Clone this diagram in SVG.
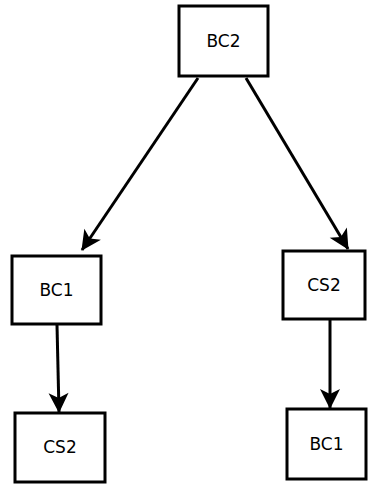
<svg xmlns="http://www.w3.org/2000/svg" width="369" height="484" viewBox="0 0 369 484">
<style>
.n{fill:#fff;stroke:#000;stroke-width:3}
.t{font-family:"DejaVu Sans",Verdana,sans-serif;font-size:17px;fill:#000;text-anchor:middle;dominant-baseline:central}
.e{stroke:#000;stroke-width:3;fill:none;marker-end:url(#a)}
</style>
<defs>
<marker id="a" viewBox="0 0 20 20" refX="19" refY="10" markerWidth="20" markerHeight="20" markerUnits="userSpaceOnUse" orient="auto" overflow="visible">
<path d="M0,0 L20,10 L0,20 L5,10 z" fill="#000"/>
</marker>
</defs>
<rect width="369" height="484" fill="#fff"/>
<g id="edges">
<line class="e" x1="198" y1="78" x2="82" y2="250"/>
<line class="e" x1="246" y1="78" x2="348" y2="249"/>
<line class="e" x1="57" y1="325" x2="59" y2="412"/>
<line class="e" x1="330" y1="320" x2="330" y2="408"/>
</g>
<g id="BC2"><rect class="n" x="179" y="6" width="89" height="70"/><text class="t" x="223.5" y="41">BC2</text></g>
<g id="BC1a"><rect class="n" x="12" y="256" width="89" height="68"/><text class="t" x="56.5" y="290">BC1</text></g>
<g id="CS2a"><rect class="n" x="15" y="413" width="90" height="69"/><text class="t" x="60" y="447">CS2</text></g>
<g id="CS2b"><rect class="n" x="283" y="251" width="82" height="68"/><text class="t" x="324" y="285">CS2</text></g>
<g id="BC1b"><rect class="n" x="287" y="409" width="79" height="70"/><text class="t" x="326.5" y="444">BC1</text></g>
</svg>
